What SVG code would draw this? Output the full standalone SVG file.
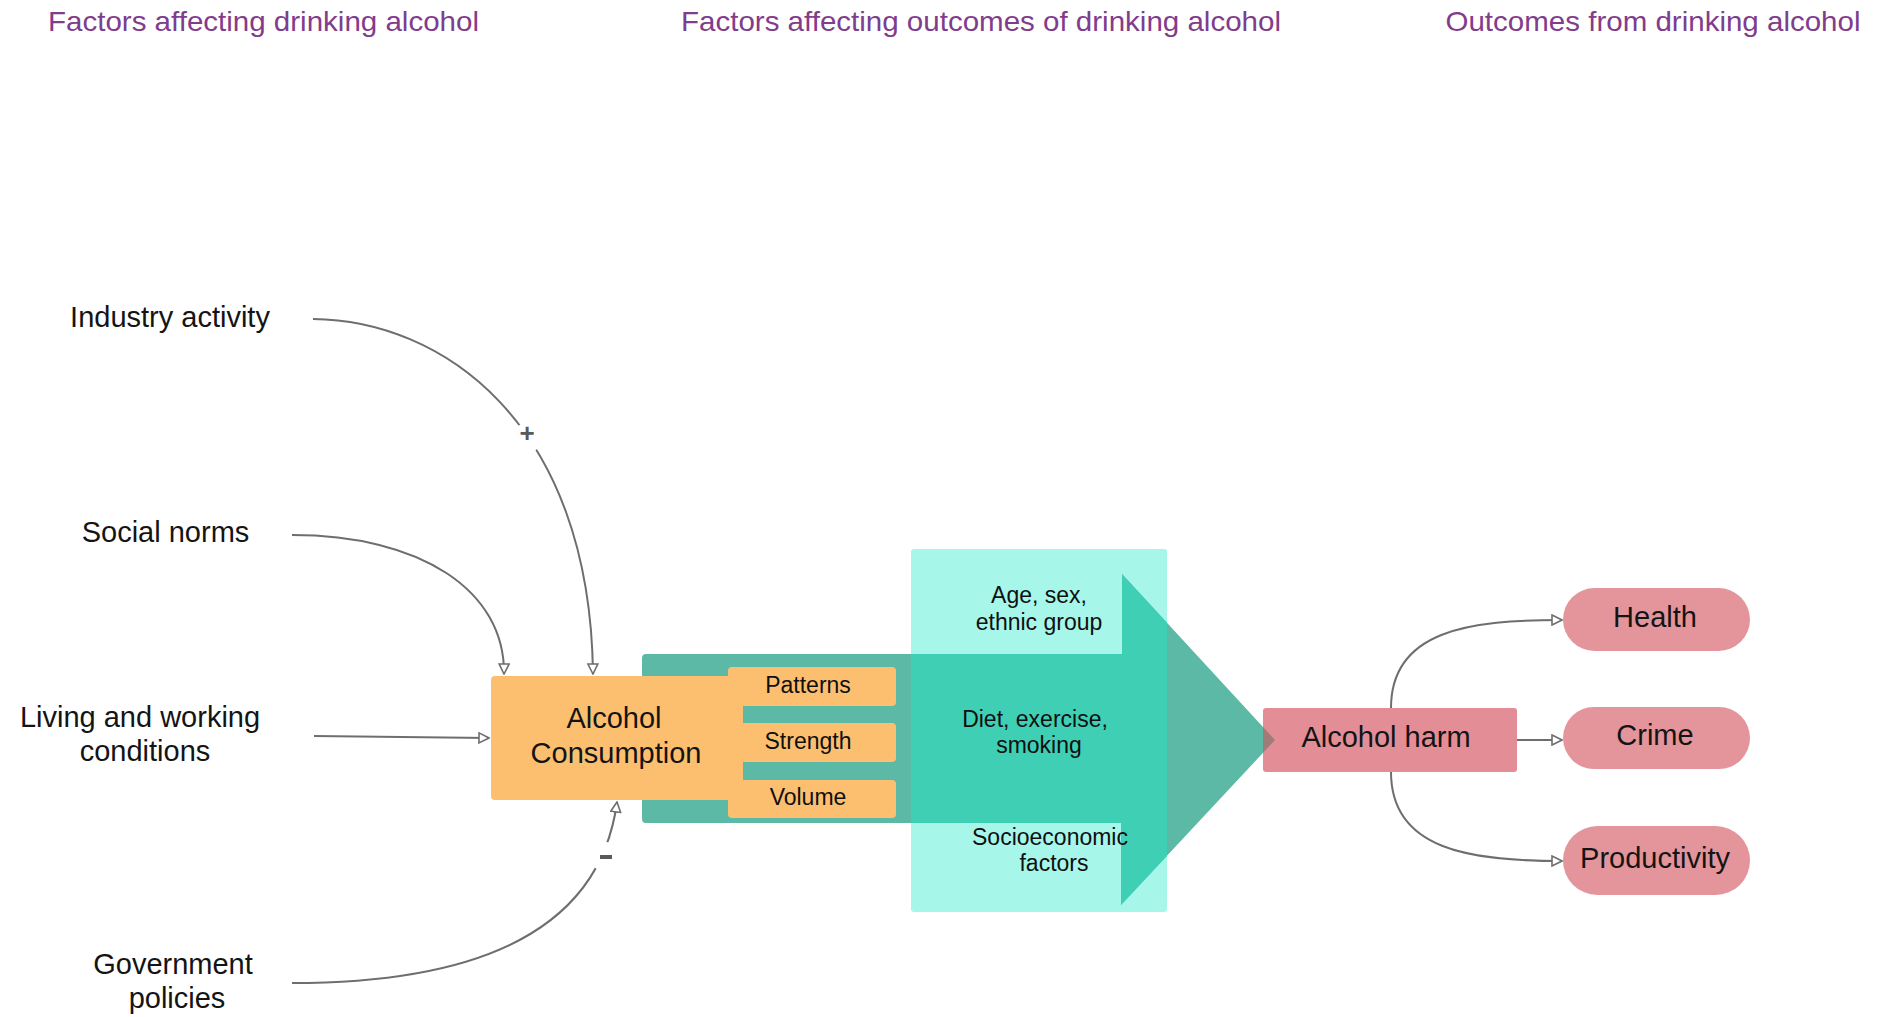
<svg xmlns="http://www.w3.org/2000/svg" width="1886" height="1017" viewBox="0 0 1886 1017">
  <defs>
    <style>
      text { font-family: "Liberation Sans", Arial, sans-serif; }
      .title { font-size: 28.5px; fill: #813c8c; text-anchor: middle; }
      .lbl { font-size: 29px; fill: #141414; text-anchor: middle; }
      .sm { font-size: 23px; fill: #101010; text-anchor: middle; }
      .conn { fill: none; stroke: #6e6e6e; stroke-width: 2; }
      .orange { fill: #fcbf70; }
      .pink { fill: #e38e96; }
      .pill { fill: #e4959c; }
      .sign { font-size: 26px; font-weight: bold; fill: #5a5a5a; text-anchor: middle; }
    </style>
    <marker id="open" viewBox="0 0 12 12" refX="11" refY="6" markerWidth="12" markerHeight="12" markerUnits="userSpaceOnUse" orient="auto">
      <path d="M1,1 L11,6 L1,11 Z" fill="#ffffff" stroke="#6e6e6e" stroke-width="1.6" stroke-linejoin="miter"/>
    </marker>
    <clipPath id="clipCyan">
      <rect x="911" y="549" width="256" height="363"/>
    </clipPath>
    <clipPath id="clipHarm">
      <rect x="1263" y="708" width="254" height="64"/>
    </clipPath>
    <path id="bigArrow" d="M642,658 Q642,654 646,654 L1122,654 L1122,574 L1275,740 L1121,905 L1121,823 L646,823 Q642,823 642,819 Z"/>
  </defs>

  <rect width="1886" height="1017" fill="#ffffff"/>

  <!-- column headings -->
  <g id="headings">
    <text class="title" x="263.5" y="31" textLength="431" lengthAdjust="spacingAndGlyphs">Factors affecting drinking alcohol</text>
    <text class="title" x="981" y="31" textLength="600" lengthAdjust="spacingAndGlyphs">Factors affecting outcomes of drinking alcohol</text>
    <text class="title" x="1653" y="31" textLength="415" lengthAdjust="spacingAndGlyphs">Outcomes from drinking alcohol</text>
  </g>

  <!-- outcome modifiers: light panel with the flow arrow across it -->
  <g id="modifiers">
    <rect x="911" y="549" width="256" height="363" rx="3" fill="#a6f7ea"/>
    <use href="#bigArrow" fill="#5bb9a6"/>
    <use href="#bigArrow" fill="#3ecfb5" clip-path="url(#clipCyan)"/>
    <text class="sm" x="1039" y="603">Age, sex,</text>
    <text class="sm" x="1039" y="630">ethnic group</text>
    <text class="sm" x="1035" y="727">Diet, exercise,</text>
    <text class="sm" x="1039" y="753">smoking</text>
    <text class="sm" x="1050" y="845">Socioeconomic</text>
    <text class="sm" x="1054" y="871">factors</text>
  </g>

  <!-- alcohol harm -->
  <g id="alcohol-harm">
    <rect class="pink" x="1263" y="708" width="254" height="64" rx="3"/>
    <use href="#bigArrow" fill="#a17b77" clip-path="url(#clipHarm)"/>
    <text class="lbl" x="1386" y="747">Alcohol harm</text>
  </g>

  <!-- alcohol consumption with its three dimensions -->
  <g id="alcohol-consumption">
    <rect class="orange" x="491" y="676" width="252" height="124" rx="4"/>
    <rect class="orange" x="728" y="667" width="168" height="39" rx="4"/>
    <rect class="orange" x="728" y="723" width="168" height="39" rx="4"/>
    <rect class="orange" x="728" y="780" width="168" height="38" rx="4"/>
    <text class="lbl" x="614" y="728">Alcohol</text>
    <text class="lbl" x="616" y="763">Consumption</text>
    <text class="sm" x="808" y="693">Patterns</text>
    <text class="sm" x="808" y="749">Strength</text>
    <text class="sm" x="808" y="805">Volume</text>
  </g>

  <!-- factors on the left -->
  <g id="industry-activity">
    <text class="lbl" x="170" y="327">Industry activity</text>
  </g>
  <g id="social-norms">
    <text class="lbl" x="165.5" y="542">Social norms</text>
  </g>
  <g id="living-working">
    <text class="lbl" x="140" y="727">Living and working</text>
    <text class="lbl" x="145" y="761">conditions</text>
  </g>
  <g id="government-policies">
    <text class="lbl" x="173" y="974">Government</text>
    <text class="lbl" x="177" y="1008">policies</text>
  </g>

  <!-- outcomes -->
  <g id="health">
    <rect class="pill" x="1563" y="588" width="187" height="63" rx="31.5"/>
    <text class="lbl" x="1655" y="627">Health</text>
  </g>
  <g id="crime">
    <rect class="pill" x="1563" y="707" width="187" height="62" rx="31"/>
    <text class="lbl" x="1655" y="745">Crime</text>
  </g>
  <g id="productivity">
    <rect class="pill" x="1563" y="826" width="187" height="69" rx="34.5"/>
    <text class="lbl" x="1655" y="868">Productivity</text>
  </g>

  <!-- connectors -->
  <g id="connectors">
    <path class="conn" d="M313,319 C440,320 590,420 593,674" marker-end="url(#open)"/>
    <circle cx="527" cy="438" r="15" fill="#ffffff"/>
    <text class="sign" x="527" y="442">+</text>
    <path class="conn" d="M292,535 C420,535 505,590 504,674" marker-end="url(#open)"/>
    <path class="conn" d="M314,736 L489,738" marker-end="url(#open)"/>
    <path class="conn" d="M292,983 C480,983 600,930 617,802" marker-end="url(#open)"/>
    <circle cx="605.5" cy="857" r="15" fill="#ffffff"/>
    <rect x="600" y="855" width="12" height="4" fill="#5a5a5a"/>
    <path class="conn" d="M1391,708 C1391,630 1470,620 1562,620" marker-end="url(#open)"/>
    <path class="conn" d="M1517,740 L1562,740" marker-end="url(#open)"/>
    <path class="conn" d="M1391,772 C1391,850 1470,861 1562,861" marker-end="url(#open)"/>
  </g>
</svg>
